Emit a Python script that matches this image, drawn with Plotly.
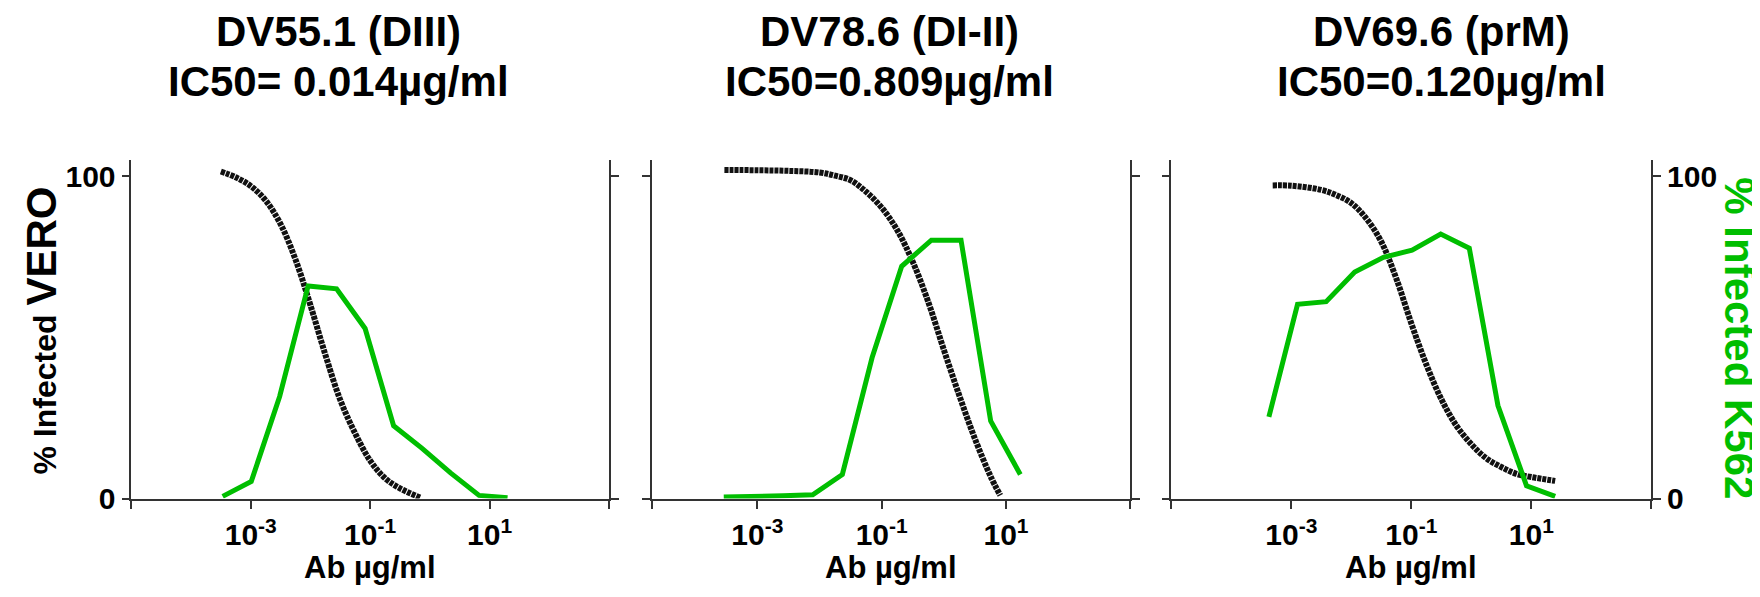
import plotly.graph_objects as go

# ---------------- data ----------------
panel_titles = ["DV55.1 (DIII)", "DV78.6 (DI-II)", "DV69.6 (prM)"]
panel_ic50 = ["IC50= 0.014µg/ml", "IC50=0.809µg/ml", "IC50=0.120µg/ml"]

# fitted neutralisation curves (Vero)
vero1_x = [0.000316, 0.000562, 0.001, 0.00178, 0.00316, 0.00562, 0.01, 0.0178, 0.0316, 0.0562, 0.1, 0.178, 0.316, 0.71]
vero1_y = [101.5, 99.7, 97.0, 92.5, 85.2, 74.2, 60.0, 44.6, 30.6, 20.2, 11.8, 6.3, 3.2, 0.2]

vero2_x = [0.000295, 0.001, 0.00316, 0.01, 0.0178, 0.0316, 0.0562, 0.1, 0.178, 0.316, 0.562, 1.0, 1.78, 3.16, 5.62, 8.1]
vero2_y = [102.0, 101.9, 101.7, 101.2, 100.2, 98.8, 95.2, 90.3, 83.3, 73.5, 61.0, 46.2, 31.9, 18.6, 7.0, 1.0]

vero3_x = [0.00049, 0.001, 0.00316, 0.00562, 0.01, 0.0178, 0.0316, 0.0562, 0.1, 0.178, 0.316, 0.562, 1.0, 1.78, 3.16, 5.62, 10.0, 25.0]
vero3_y = [97.2, 97.1, 95.8, 94.2, 91.7, 86.9, 79.7, 68.3, 54.4, 41.6, 30.9, 22.7, 16.9, 12.5, 9.8, 7.7, 6.7, 5.5]

# K562 infection (ADE), 3-fold dilution series
k562_1_x = [0.000339, 0.00102, 0.00305, 0.00914, 0.0274, 0.0823, 0.247, 0.741, 2.22, 6.67, 20.0]
k562_1_y = [0.7, 5.3, 31.7, 66.0, 65.1, 52.8, 22.6, 15.6, 8.0, 1.0, 0.3]

k562_2_x = [0.000288, 0.000864, 0.00259, 0.00777, 0.0233, 0.0700, 0.210, 0.630, 1.89, 5.67, 17.0]
k562_2_y = [0.5, 0.6, 0.9, 1.2, 7.5, 43.7, 72.1, 80.2, 80.2, 24.1, 7.5]

k562_3_x = [0.000423, 0.00127, 0.00381, 0.0114, 0.0343, 0.103, 0.309, 0.926, 2.78, 8.33, 25.0]
k562_3_y = [25.4, 60.3, 61.1, 70.3, 74.9, 77.1, 82.1, 77.7, 28.9, 4.0, 0.7]

x_tick_vals = [1e-3, 1e-1, 1e1]
x_tick_text = ["10<sup>-3</sup>", "10<sup>-1</sup>", "10<sup>1</sup>"]
x_log_ranges = [[-5, 3], [-4.7, 3], [-5, 3]]
y_tick_vals = [0, 100]
y_tick_text = ["0", "100"]

# ---------------- layout geometry ----------------
W, H = 1760, 597
FONT = "Liberation Sans, Arial, sans-serif"
BLACK = "#111111"
GREEN = "#00BE00"
AXC = "#333333"

x_doms = [[123.3 / W, 601 / W], [643.7 / W, 1122.3 / W], [1163.3 / W, 1643.3 / W]]
y_dom = [1 - 505 / H, 1 - 156.7 / H]

fig = go.Figure()
vero = [(vero1_x, vero1_y), (vero2_x, vero2_y), (vero3_x, vero3_y)]
k562 = [(k562_1_x, k562_1_y), (k562_2_x, k562_2_y), (k562_3_x, k562_3_y)]

for i in range(3):
    xa = "x" if i == 0 else f"x{i+1}"
    ya = "y" if i == 0 else f"y{i+1}"
    fig.add_trace(go.Scatter(x=vero[i][0], y=vero[i][1], mode="lines", xaxis=xa, yaxis=ya,
                             line=dict(color=BLACK, width=6, shape="spline", dash="4px,1px"),
                             showlegend=False, hoverinfo="skip"))
    fig.add_trace(go.Scatter(x=k562[i][0], y=k562[i][1], mode="lines", xaxis=xa, yaxis=ya,
                             line=dict(color=GREEN, width=5),
                             showlegend=False, hoverinfo="skip"))

layout = dict(
    width=W, height=H,
    margin=dict(l=0, r=0, t=0, b=0),
    paper_bgcolor="white", plot_bgcolor="white",
    showlegend=False,
)

for i in range(3):
    xk = "xaxis" if i == 0 else f"xaxis{i+1}"
    yk = "yaxis" if i == 0 else f"yaxis{i+1}"
    ya_ref = "y" if i == 0 else f"y{i+1}"
    xa_ref = "x" if i == 0 else f"x{i+1}"
    lo, hi = x_log_ranges[i]
    tv = [10 ** lo] + x_tick_vals + [10 ** hi]
    tt = [""] + x_tick_text + [""]
    layout[xk] = dict(
        type="log", domain=x_doms[i], range=[lo, hi], anchor=ya_ref,
        showline=True, linecolor=AXC, linewidth=1.5,
        ticks="outside", ticklen=9, tickwidth=1.5, tickcolor=AXC,
        tickmode="array", tickvals=tv, ticktext=tt,
        tickfont=dict(family=FONT, size=30, color="black", weight="bold"),
        showgrid=False, zeroline=False, fixedrange=True,
    )
    layout[yk] = dict(
        domain=y_dom, range=[0, 105], anchor=xa_ref,
        side="right" if i == 2 else "left",
        showline=True, linecolor=AXC, linewidth=1.5, mirror="ticks",
        ticks="outside", ticklen=8, tickwidth=1.5, tickcolor=AXC,
        tickmode="array", tickvals=y_tick_vals, ticktext=y_tick_text,
        showticklabels=(i != 1),
        tickfont=dict(family=FONT, size=30, color="black", weight="bold"),
        showgrid=False, zeroline=False, fixedrange=True,
    )

fig.update_layout(**layout)

# titles
title_x = [330, 881, 1433]
for i in range(3):
    fig.add_annotation(text=panel_titles[i], x=title_x[i] / W, y=1 - 24 / H, xref="paper", yref="paper",
                       xanchor="center", yanchor="middle", showarrow=False,
                       font=dict(family=FONT, size=42, color="black", weight="bold"))
    fig.add_annotation(text=panel_ic50[i], x=title_x[i] / W, y=1 - 76 / H, xref="paper", yref="paper",
                       xanchor="center", yanchor="middle", showarrow=False,
                       font=dict(family=FONT, size=42, color="black", weight="bold"))
    cx = (x_doms[i][0] + x_doms[i][1]) / 2
    fig.add_annotation(text="Ab µg/ml", x=cx, y=1 - 576 / H, xref="paper", yref="paper",
                       xanchor="center", yanchor="middle", showarrow=False,
                       font=dict(family=FONT, size=31, color="black", weight="bold"))

# y-axis titles
fig.add_annotation(text='<span style="font-size:32px">% Infected </span>VERO',
                   x=34 / W, y=1 - 332 / H, xref="paper", yref="paper",
                   xanchor="center", yanchor="middle", textangle=-90, showarrow=False,
                   font=dict(family=FONT, size=42, color="black", weight="bold"))
fig.add_annotation(text="% Infected K562",
                   x=1732 / W, y=1 - 340 / H, xref="paper", yref="paper",
                   xanchor="center", yanchor="middle", textangle=90, showarrow=False,
                   font=dict(family=FONT, size=42, color=GREEN, weight="bold"))

fig.write_html("out.html")
